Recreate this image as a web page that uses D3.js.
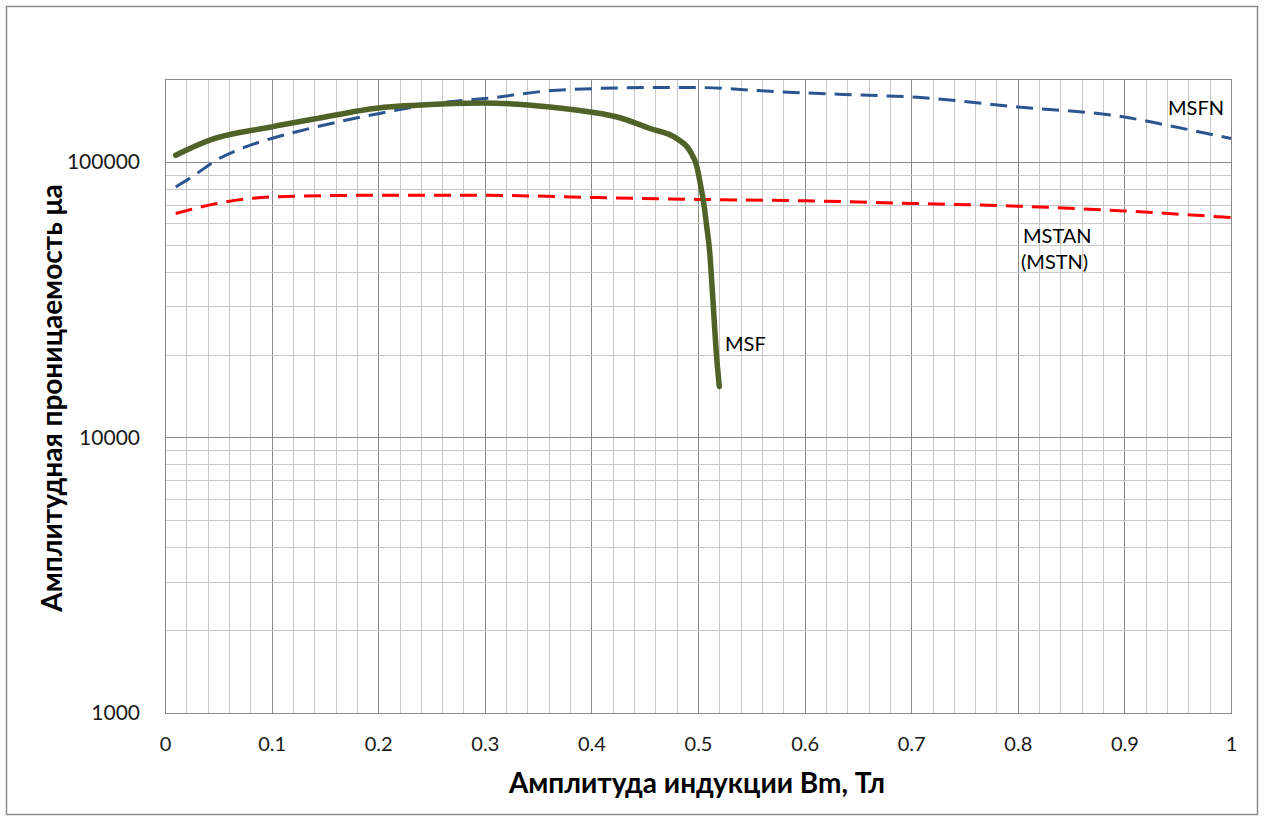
<!DOCTYPE html>
<html>
<head>
<meta charset="utf-8">
<script src="https://cdn.jsdelivr.net/npm/d3@7"></script>
<style>
  body { margin: 0; background: #fff; }
  text { font-family: Lato, "Liberation Sans", sans-serif; }
</style>
</head>
<body>
<svg id="chart" width="1264" height="821"></svg>
<script>
// MSF (solid green)
const msfB  = [0.01, 0.042, 0.1, 0.142, 0.2, 0.236, 0.298, 0.361, 0.399, 0.424, 0.455, 0.48, 0.492, 0.499, 0.503, 0.505, 0.508, 0.511, 0.514, 0.517, 0.52];
const msfMu = [105800, 120000, 134000, 143600, 157000, 160600, 163700, 158300, 151700, 145600, 132200, 121600, 110300, 95900, 80000, 72600, 59000, 47000, 31500, 20700, 15300];

// MSFN (blue dashed)
const msfnB  = [0.01, 0.023, 0.048, 0.08, 0.1, 0.142, 0.2, 0.267, 0.3, 0.36, 0.4, 0.455, 0.5, 0.56, 0.6, 0.66, 0.7, 0.8, 0.9, 0.94, 1.0];
const msfnMu = [81100, 87000, 101400, 115000, 121700, 134000, 149700, 165300, 169800, 181200, 184500, 186200, 186200, 181200, 178000, 174600, 172200, 158300, 145600, 135900, 121600];

// MSTAN (MSTN) (red dashed)
const mstanB  = [0.01, 0.048, 0.1, 0.2, 0.3, 0.4, 0.5, 0.6, 0.7, 0.8, 0.9, 1.0];
const mstanMu = [65000, 70600, 74600, 75700, 75700, 74300, 73100, 72300, 70700, 69100, 66400, 62800];

const xTicks = [0, 0.1, 0.2, 0.3, 0.4, 0.5, 0.6, 0.7, 0.8, 0.9, 1];
const yTicks = [1000, 10000, 100000];

const xTitle = "Амплитуда индукции Bm, Тл";
const yTitle = "Амплитудная проницаемость μа";

const svg = d3.select("#chart");

// outer chart border
svg.append("rect")
  .attr("x", 6.5).attr("y", 6.5)
  .attr("width", 1251).attr("height", 808)
  .attr("fill", "#fff")
  .attr("stroke", "#8c8c8c")
  .attr("stroke-width", 1.5);

const plot = {left: 165, top: 79, right: 1231, bottom: 713};

const x = d3.scaleLinear().domain([0, 1]).range([plot.left, plot.right]);
const y = d3.scaleLog().domain([1000, 200000]).range([plot.bottom, plot.top]);

// grid
const grid = svg.append("g");
const vLines = d3.range(0, 51).map(i => i / 50);
grid.selectAll(".vgrid").data(vLines).enter().append("line")
  .attr("x1", d => Math.round(x(d)) + 0.5)
  .attr("x2", d => Math.round(x(d)) + 0.5)
  .attr("y1", plot.top).attr("y2", plot.bottom)
  .attr("stroke", (d, i) => i % 5 === 0 ? "#8a8a8a" : "#c8c8c8")
  .attr("stroke-width", 1);

const hLines = [];
[1000, 10000, 100000].forEach(dec => {
  for (let k = 1; k <= 9; k++) {
    if (dec * k <= 200000) hLines.push({v: dec * k, major: k === 1});
  }
});
hLines.push({v: 200000, major: false});
grid.selectAll(".hgrid").data(hLines).enter().append("line")
  .attr("x1", plot.left).attr("x2", plot.right)
  .attr("y1", d => Math.round(y(d.v)) + 0.5)
  .attr("y2", d => Math.round(y(d.v)) + 0.5)
  .attr("stroke", d => d.major ? "#8a8a8a" : "#c8c8c8")
  .attr("stroke-width", 1);

// plot border
svg.append("rect")
  .attr("x", plot.left + 0.5).attr("y", plot.top + 0.5)
  .attr("width", plot.right - plot.left).attr("height", plot.bottom - plot.top)
  .attr("fill", "none")
  .attr("stroke", "#8a8a8a");

// axes
const xAxis = d3.axisBottom(x)
  .tickValues(xTicks)
  .tickSize(0)
  .tickPadding(24)
  .tickFormat(d => d3.format("")(d));
const gx = svg.append("g")
  .attr("transform", "translate(0," + plot.bottom + ")")
  .call(xAxis);
gx.select(".domain").remove();
gx.selectAll("text").attr("font-size", "20px").attr("fill", "#1a1a1a")
  .style("font-family", "Lato, 'Liberation Sans', sans-serif");

const yAxis = d3.axisLeft(y)
  .tickValues(yTicks)
  .tickSize(0)
  .tickPadding(25)
  .tickFormat(d3.format("d"));
const gy = svg.append("g")
  .attr("transform", "translate(" + plot.left + ",0)")
  .call(yAxis);
gy.select(".domain").remove();
gy.selectAll("text").attr("font-size", "21px").attr("fill", "#1a1a1a")
  .style("font-family", "Lato, 'Liberation Sans', sans-serif");

// curves
const line = d3.line()
  .x(d => x(d[0]))
  .y(d => y(d[1]))
  .curve(d3.curveMonotoneX);

const series = [
  {b: mstanB, mu: mstanMu, color: "#ff0000", width: 3, dash: "17,9"},
  {b: msfnB, mu: msfnMu, color: "#2b5590", width: 3, dash: "17,9"},
  {b: msfB, mu: msfMu, color: "#4f6228", width: 5.5, dash: null}
];

svg.append("g").selectAll("path").data(series).enter().append("path")
  .attr("d", s => line(s.b.map((v, i) => [v, s.mu[i]])))
  .attr("fill", "none")
  .attr("stroke", s => s.color)
  .attr("stroke-width", s => s.width)
  .attr("stroke-dasharray", s => s.dash)
  .attr("stroke-linecap", s => s.dash ? "butt" : "round")
  .attr("stroke-linejoin", "round");

// series labels
const labels = svg.append("g").attr("font-size", "20px").attr("fill", "#000");
labels.append("text").attr("x", 1168).attr("y", 115).text("MSFN");
labels.append("text").attr("x", 1023).attr("y", 243).text("MSTAN");
labels.append("text").attr("x", 1021).attr("y", 269).text("(MSTN)");
labels.append("text").attr("x", 725).attr("y", 351).text("MSF");

// axis titles
svg.append("text")
  .attr("x", 697).attr("y", 793)
  .attr("text-anchor", "middle")
  .attr("font-size", "28px")
  .attr("font-weight", "bold")
  .attr("fill", "#000")
  .text(xTitle);

svg.append("text")
  .attr("transform", "translate(62,398) rotate(-90)")
  .attr("text-anchor", "middle")
  .attr("font-size", "28px")
  .attr("font-weight", "bold")
  .attr("fill", "#000")
  .text(yTitle);
</script>
</body>
</html>
